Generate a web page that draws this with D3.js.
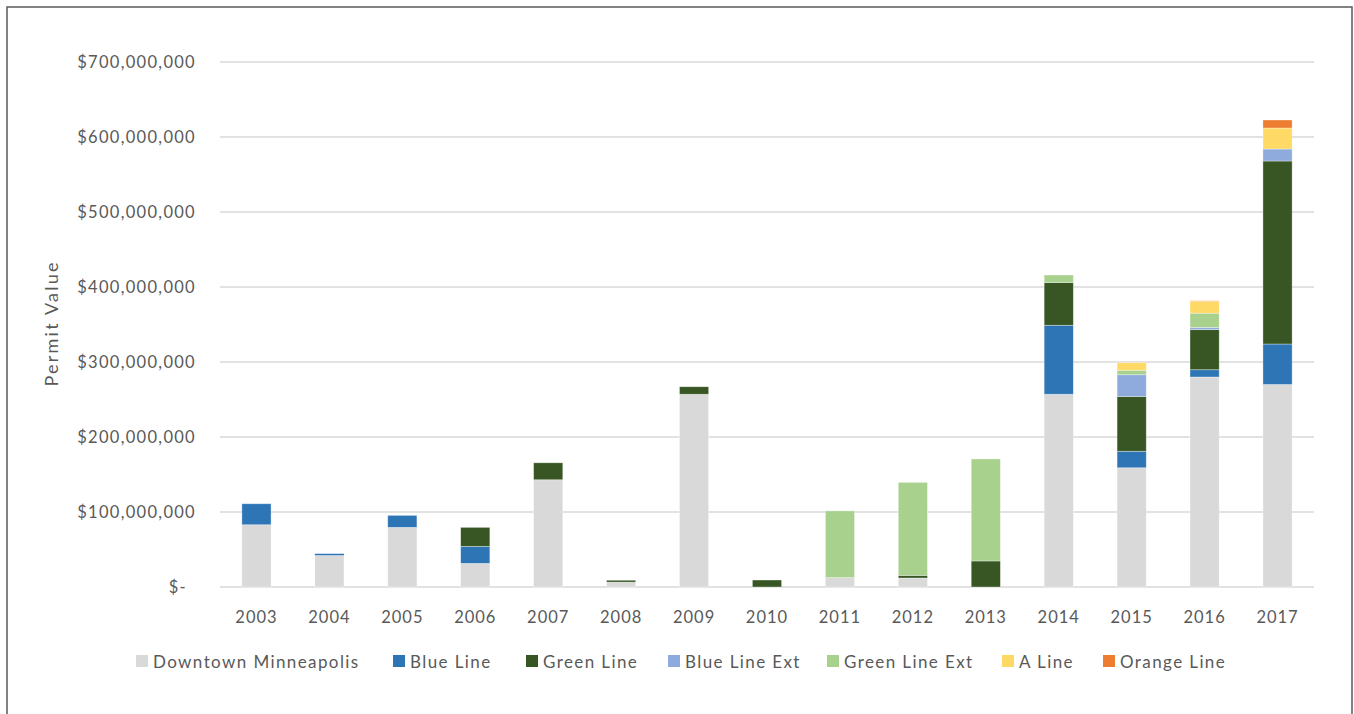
<!DOCTYPE html>
<html>
<head>
<meta charset="utf-8">
<script src="https://cdn.jsdelivr.net/npm/d3@7/dist/d3.min.js"></script>
<style>
  html, body { margin: 0; padding: 0; background: #fff; }
  svg { display: block; }
  text { font-family: Lato, "Open Sans", sans-serif; fill: #595959; }
</style>
</head>
<body>
<svg id="chart" width="1354" height="714"></svg>
<script>
// Permit value by year and transit corridor (US dollars)
const years = ["2003","2004","2005","2006","2007","2008","2009","2010","2011","2012","2013","2014","2015","2016","2017"];
const downtownMinneapolis = [83e6, 42e6, 79.5e6, 31.5e6, 143e6, 6.5e6, 257e6, 0, 12.5e6, 12e6, 0, 257e6, 159e6, 280e6, 270e6];
const blueLine            = [28e6, 2.5e6, 16e6, 22.7e6, 0, 0, 0, 0, 0, 0, 0, 92e6, 22e6, 9.7e6, 54e6];
const greenLine           = [0, 0, 0, 25.3e6, 22.6e6, 2.5e6, 10e6, 9.3e6, 0, 3.5e6, 34.7e6, 57e6, 73e6, 53.4e6, 244e6];
const blueLineExt         = [0, 0, 0, 0, 0, 0, 0, 0, 0, 0, 0, 0, 29e6, 3e6, 16e6];
const greenLineExt        = [0, 0, 0, 0, 0, 0, 0, 0, 89e6, 124e6, 136e6, 10e6, 6e6, 19e6, 0];
const aLine               = [0, 0, 0, 0, 0, 0, 0, 0, 0, 0, 0, 0, 10e6, 16e6, 28e6];
const orangeLine          = [0, 0, 0, 0, 0, 0, 0, 0, 0, 0, 0, 0, 0, 0.5e6, 10.7e6];

const seriesNames = ["Downtown Minneapolis", "Blue Line", "Green Line", "Blue Line Ext", "Green Line Ext", "A Line", "Orange Line"];
const seriesValues = [downtownMinneapolis, blueLine, greenLine, blueLineExt, greenLineExt, aLine, orangeLine];
const seriesColors = ["#d9d9d9", "#2e75b6", "#375623", "#8faadc", "#a9d18e", "#ffd966", "#ed7d31"];
const yTicks = [0, 100e6, 200e6, 300e6, 400e6, 500e6, 600e6, 700e6];
const yTitle = "Permit Value";

// Build a row table for d3.stack
const rows = years.map((yr, i) => {
  const r = { year: yr };
  seriesNames.forEach((name, s) => { r[name] = seriesValues[s][i]; });
  return r;
});

const svg = d3.select("#chart");

// Outer frame
svg.append("rect")
  .attr("x", 7).attr("y", 7).attr("width", 1345).attr("height", 720)
  .attr("fill", "none").attr("stroke", "#595959").attr("stroke-width", 1.5);

const plot = { left: 220, right: 1314, top: 62, bottom: 587 };

const x = d3.scaleBand()
  .domain(years)
  .range([plot.left, plot.right])
  .paddingInner(0.6)
  .paddingOuter(0.3);

const y = d3.scaleLinear()
  .domain([0, 700e6])
  .range([plot.bottom, plot.top]);

// Gridlines
svg.append("g")
  .selectAll("line")
  .data(yTicks)
  .join("line")
  .attr("x1", plot.left).attr("x2", plot.right)
  .attr("y1", d => y(d)).attr("y2", d => y(d))
  .attr("stroke", "#d9d9d9").attr("stroke-width", 1.5);

// Y axis tick labels (accounting style)
const fmt = d3.format(",");
const yAxis = d3.axisLeft(y)
  .tickValues(yTicks)
  .tickSize(0)
  .tickPadding(0)
  .tickFormat(d => d === 0 ? "$-" : "$" + fmt(d));
const gy = svg.append("g")
  .attr("transform", `translate(${196},0)`)
  .call(yAxis);
gy.select(".domain").remove();
gy.selectAll("text")
  .attr("font-size", 16.5)
  .attr("letter-spacing", 1.3)
  .attr("fill", "#595959")
  .attr("dy", "0.35em")
  .attr("font-family", "Lato, 'Open Sans', sans-serif")
  .attr("x", d => d === 0 ? -9 : 0);

// Stacked bars
const stack = d3.stack().keys(seriesNames);
const layers = stack(rows);

svg.append("g")
  .selectAll("g")
  .data(layers)
  .join("g")
  .attr("fill", (d, i) => seriesColors[i])
  .selectAll("rect")
  .data(d => d.filter(p => p[1] - p[0] > 0))
  .join("rect")
  .attr("x", d => x(d.data.year))
  .attr("width", x.bandwidth())
  .attr("y", d => y(d[1]))
  .attr("height", d => y(d[0]) - y(d[1]))
  .attr("stroke", "#ffffff")
  .attr("stroke-opacity", 0.45)
  .attr("stroke-width", 0.75);

// X axis labels
const xAxis = d3.axisBottom(x).tickSize(0).tickPadding(0);
const gx = svg.append("g")
  .attr("transform", `translate(0,${plot.bottom})`)
  .call(xAxis);
gx.select(".domain").remove();
gx.selectAll("text")
  .attr("font-size", 16.5)
  .attr("letter-spacing", 1)
  .attr("fill", "#595959")
  .attr("font-family", "Lato, 'Open Sans', sans-serif")
  .attr("y", 36)
  .attr("dy", 0);

// Y axis title
svg.append("text")
  .attr("transform", `translate(58,${(plot.top + plot.bottom) / 2}) rotate(-90)`)
  .attr("text-anchor", "middle")
  .attr("font-size", 18)
  .attr("textLength", 124)
  .attr("lengthAdjust", "spacing")
  .text(yTitle);

// Legend
const legendX = [136, 393, 526, 668, 827, 1002, 1103];
const legend = svg.append("g")
  .selectAll("g")
  .data(seriesNames)
  .join("g")
  .attr("transform", (d, i) => `translate(${legendX[i]},${655})`);
legend.append("rect")
  .attr("width", 12).attr("height", 12)
  .attr("fill", (d, i) => seriesColors[i]);
legend.append("text")
  .attr("x", 17).attr("y", 12.5)
  .attr("font-size", 17)
  .attr("letter-spacing", 1.4)
  .text(d => d);
</script>
</body>
</html>
